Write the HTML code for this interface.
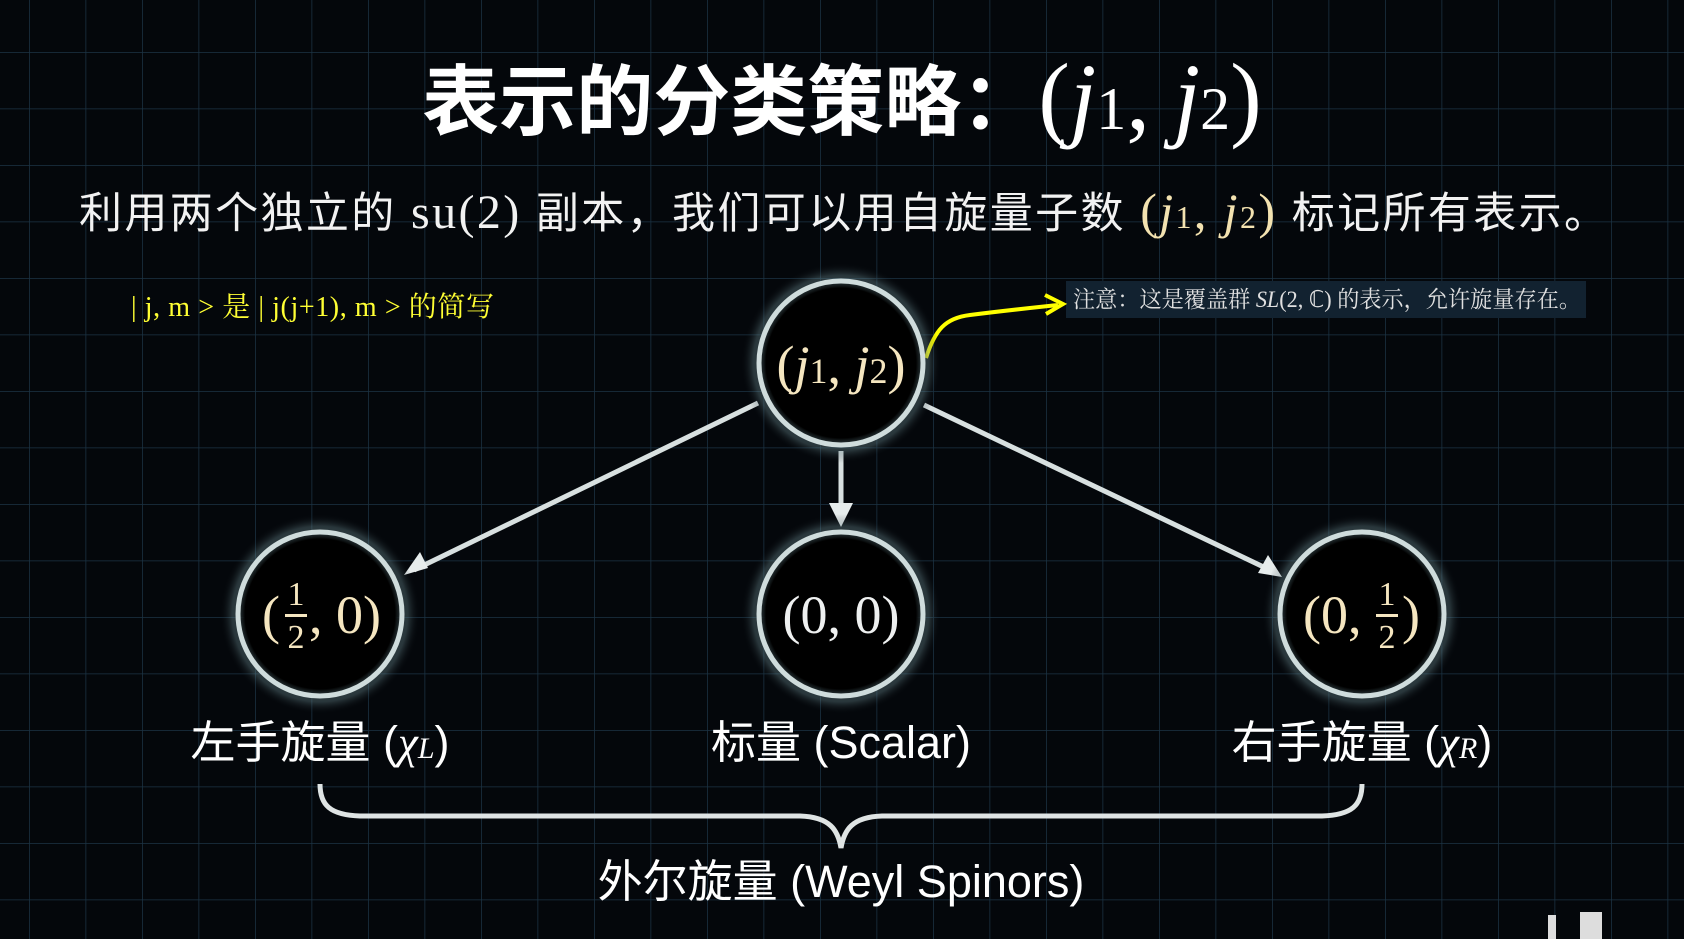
<!DOCTYPE html>
<html><head><meta charset="utf-8"><style>
html,body{margin:0;padding:0;background:#05080c;}
body{width:1684px;height:945px;overflow:hidden;position:relative;}
svg{position:absolute;left:0;top:0;}
.cjk{font-family:"Liberation Sans","Noto Sans CJK SC",sans-serif;}
.ser{font-family:"Liberation Serif","Noto Serif CJK SC",serif;}
</style></head><body>
<svg width="1684" height="945" viewBox="0 0 1684 945">
<defs>
<pattern id="g" x="29" y="52" width="56.5" height="56.5" patternUnits="userSpaceOnUse">
<path d="M0 0H56.5M0 0V56.5" stroke="#1b3344" stroke-width="1.5" fill="none"/>
</pattern>
<radialGradient id="glow"><stop offset="0.75" stop-color="#000" stop-opacity="1"/><stop offset="0.88" stop-color="#6a8a90" stop-opacity="0.35"/><stop offset="1" stop-color="#05080c" stop-opacity="0"/></radialGradient>
</defs>
<rect width="1684" height="945" fill="#04070b"/>
<rect width="1684" height="945" fill="url(#g)"/>
<rect y="939" width="1684" height="6" fill="#fff"/>
<rect x="1548" y="915" width="8" height="24" fill="#ddd"/>
<rect x="1580" y="912" width="22" height="27" fill="#ddd"/>

<text x="842" y="129" text-anchor="middle" class="cjk" font-size="77" font-weight="bold" fill="#fff">表示的分类策略：<tspan class="ser" font-weight="normal" font-size="95">(<tspan font-style="italic">j</tspan><tspan font-size="60">1</tspan>, <tspan font-style="italic">j</tspan><tspan font-size="60">2</tspan>)</tspan></text>
<text x="79" y="228" class="cjk" font-size="43" fill="#f2f2f2" textLength="1528" lengthAdjust="spacing">利用两个独立的 <tspan class="ser" font-size="48">su(2)</tspan> 副本，我们可以用自旋量子数 <tspan class="ser" fill="#f3e2b0" font-size="50">(<tspan font-style="italic">j</tspan><tspan font-size="32">1</tspan>, <tspan font-style="italic">j</tspan><tspan font-size="32">2</tspan>)</tspan> 标记所有表示。</text>

<text x="131" y="316" class="ser" font-size="28" fill="#ffff33" textLength="363" lengthAdjust="spacing">| j,  m &gt; 是 | j(j+1), m &gt; 的简写</text>

<rect x="1066" y="281" width="520" height="37" fill="#122230"/>
<text x="1073" y="307" class="ser" font-size="23" fill="#e0e0e0" textLength="508" lengthAdjust="spacingAndGlyphs">注意：这是覆盖群 <tspan font-style="italic">SL</tspan>(2, ℂ) 的表示，允许旋量存在。</text>
<path d="M926 358 C935 330 945 318 970 315 C1010 310 1030 308 1058 305" stroke="#ffff00" stroke-width="4" fill="none"/>
<path d="M1045 295 L1063 304 L1046 314" stroke="#ffff00" stroke-width="4" fill="none"/>

<g stroke="#d8e0e0" stroke-width="5" fill="none">
<line x1="758" y1="403" x2="414" y2="570"/>
<line x1="841" y1="451" x2="841" y2="515"/>
<line x1="924" y1="405" x2="1272" y2="571"/>
</g>
<path d="M404 575 L420 552 L428 568z" fill="#e6ecec"/>
<path d="M841 527 L829 503 L853 503z" fill="#e6ecec"/>
<path d="M1282 577 L1258 573 L1268 555z" fill="#e6ecec"/>

<g>
<circle cx="841" cy="363" r="100" fill="url(#glow)"/>
<circle cx="320" cy="614" r="100" fill="url(#glow)"/>
<circle cx="841" cy="614" r="100" fill="url(#glow)"/>
<circle cx="1362" cy="614" r="100" fill="url(#glow)"/>
</g>
<g stroke="#cfdcdc" stroke-width="5" fill="none">
<circle cx="841" cy="363" r="82"/>
<circle cx="320" cy="614" r="82"/>
<circle cx="841" cy="614" r="82"/>
<circle cx="1362" cy="614" r="82"/>
</g>
<text x="841" y="383" text-anchor="middle" class="ser" font-size="54" fill="#f5e6c0">(<tspan font-style="italic">j</tspan><tspan font-size="36">1</tspan>, <tspan font-style="italic">j</tspan><tspan font-size="36">2</tspan>)</text>
<text x="841" y="633" text-anchor="middle" class="ser" font-size="54" fill="#eef0f0">(0, 0)</text>
<g class="ser" fill="#f5e6c0">
<text x="262" y="633" font-size="54">(</text>
<text x="296" y="605" text-anchor="middle" font-size="34">1</text>
<rect x="285" y="614" width="22" height="3"/>
<text x="296" y="648" text-anchor="middle" font-size="34">2</text>
<text x="309" y="633" font-size="54">, 0)</text>
<text x="1303" y="633" font-size="54">(0,</text>
<text x="1387" y="605" text-anchor="middle" font-size="34">1</text>
<rect x="1376" y="614" width="22" height="3"/>
<text x="1387" y="648" text-anchor="middle" font-size="34">2</text>
<text x="1402" y="633" font-size="54">)</text>
</g>

<text x="320" y="758" text-anchor="middle" class="cjk" font-size="45" fill="#fff">左手旋量 (<tspan class="ser" font-style="italic">χ<tspan font-size="30">L</tspan></tspan>)</text>
<text x="841" y="758" text-anchor="middle" class="cjk" font-size="45" fill="#fff">标量 (Scalar)</text>
<text x="1362" y="758" text-anchor="middle" class="cjk" font-size="45" fill="#fff">右手旋量 (<tspan class="ser" font-style="italic">χ<tspan font-size="30">R</tspan></tspan>)</text>

<path d="M320 784 C320 805 330 815 360 816 L800 816 C830 817 838 830 841 848 C844 830 852 817 882 816 L1322 816 C1352 815 1362 805 1362 784" stroke="#dfe4e4" stroke-width="5" fill="none"/>
<text x="841" y="897" text-anchor="middle" class="cjk" font-size="45" fill="#fff">外尔旋量 (Weyl Spinors)</text>
</svg>
</body></html>
